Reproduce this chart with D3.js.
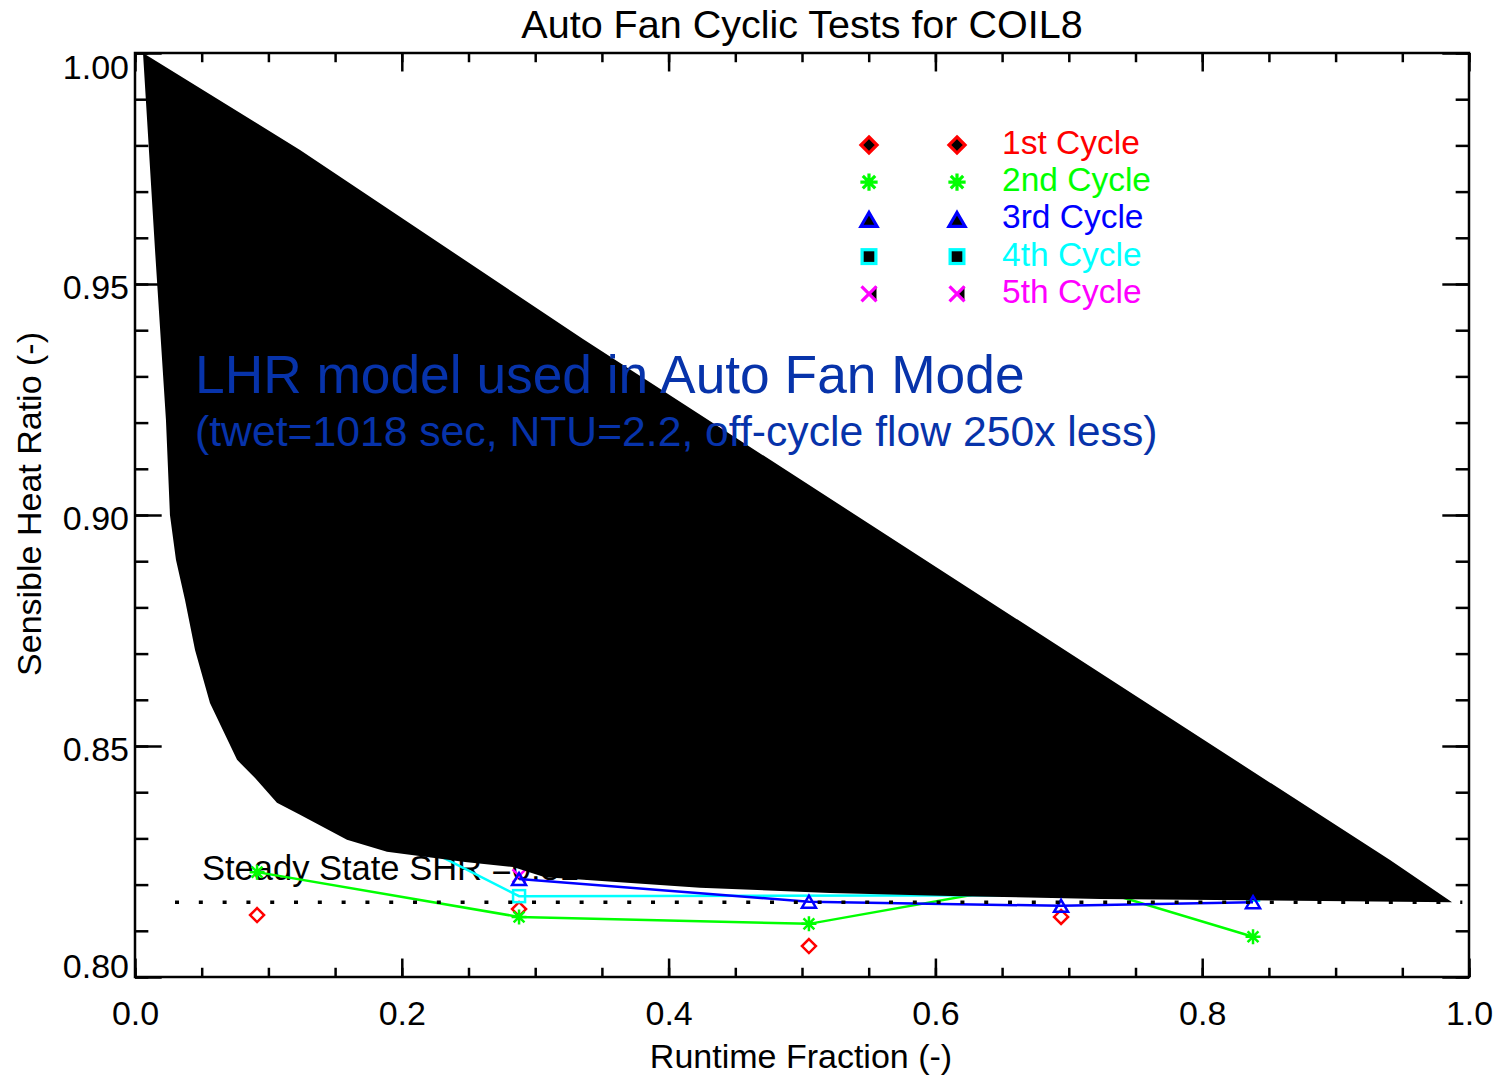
<!DOCTYPE html>
<html>
<head>
<meta charset="utf-8">
<script src="https://cdn.jsdelivr.net/npm/d3@7"></script>
<style>
  html, body { margin: 0; padding: 0; background: #ffffff; }
  svg { display: block; }
  text { font-family: "Liberation Sans", Arial, Helvetica, sans-serif; }
</style>
</head>
<body>
<svg id="chart" width="1508" height="1076"></svg>
<script>
// ---- data -------------------------------------------------------------
const runtimeFraction = [0.0915, 0.2879, 0.5052, 0.6942, 0.8381];

const cycle1SHR = [0.8134, 0.8147, 0.8067, 0.8130, null];
const cycle2SHR = [0.8227, 0.8130, 0.8115, 0.8212, 0.8087];
const cycle3SHR = [null, 0.8212, 0.8163, 0.8154, 0.8162];
const cycle4SHR = [0.8463, 0.8175, null, null, 0.8178];
const cycle5SHR = [null, 0.8219, null, null, null];

const cycleNames = ["1st Cycle", "2nd Cycle", "3rd Cycle", "4th Cycle", "5th Cycle"];

// LHR model envelope (auto fan mode): upper and lower bounding curves
const modelUpperRTF = [0.0060, 0.1237, 0.3358, 0.9408, 0.9873];
const modelUpperSHR = [1.0000, 0.9790, 0.9381, 0.8253, 0.8162];
const modelLowerRTF = [0.0060, 0.0150, 0.0232, 0.0262, 0.0307, 0.0375, 0.0450, 0.0562,
                       0.0765, 0.0900, 0.1064, 0.1237, 0.1589, 0.1889, 0.2474, 0.2834,
                       0.3073, 0.3336, 0.4235, 0.5210, 0.6184, 0.7234, 0.9873];
const modelLowerSHR = [1.0000, 0.9574, 0.9206, 0.9000, 0.8903, 0.8816, 0.8708, 0.8593,
                       0.8470, 0.8431, 0.8377, 0.8351, 0.8297, 0.8271, 0.8249, 0.8238,
                       0.8216, 0.8211, 0.8193, 0.8182, 0.8175, 0.8169, 0.8162];

const steadyStateSHR = 0.8162;
const steadyStateRange = [0.030, 0.995];

const xMajorTicks = [0.0, 0.2, 0.4, 0.6, 0.8, 1.0];
const xTickLabels = ["0.0", "0.2", "0.4", "0.6", "0.8", "1.0"];
const yMajorTicks = [0.80, 0.85, 0.90, 0.95, 1.00];
const yTickLabels = ["0.80", "0.85", "0.90", "0.95", "1.00"];

(function draw() {
  // ---- layout ---------------------------------------------------------
  const svg = d3.select("#chart");
  const mLeft = 135, mRight = 1469, mTop = 53, mBottom = 977;
  const x = d3.scaleLinear().domain([0, 1]).range([mLeft, mRight]);
  const y = d3.scaleLinear().domain([0.80, 1.00]).range([mBottom, mTop]);

  const colors = ["#ff0000", "#00ff00", "#0000ff", "#00ffff", "#ff00ff"];
  const textBlue = "#0733aa";
  const fontSize = 34;

  // ---- marker shapes --------------------------------------------------
  function drawSymbol(g, kind, cx, cy, color, filled, sw) {
    const s = filled ? 1.15 : 1;
    if (kind === "diamond") {
      const r = 7 * s;
      g.append("path")
        .attr("d", `M${cx},${cy - r}L${cx + r},${cy}L${cx},${cy + r}L${cx - r},${cy}Z`)
        .attr("fill", filled ? "#000" : "none").attr("stroke", color).attr("stroke-width", sw);
    } else if (kind === "asterisk") {
      const r = 7.5 * s;
      const d = r * 0.72;
      g.append("path")
        .attr("d", `M${cx - r},${cy}H${cx + r}M${cx},${cy - r}V${cy + r}` +
                   `M${cx - d},${cy - d}L${cx + d},${cy + d}M${cx - d},${cy + d}L${cx + d},${cy - d}`)
        .attr("fill", "none").attr("stroke", color).attr("stroke-width", sw);
    } else if (kind === "triangle") {
      g.append("path")
        .attr("d", `M${cx},${cy - 6 * s}L${cx + 7 * s},${cy + 6 * s}L${cx - 7 * s},${cy + 6 * s}Z`)
        .attr("fill", filled ? "#000" : "none").attr("stroke", color).attr("stroke-width", sw);
    } else if (kind === "square") {
      const r = 6 * s;
      g.append("rect")
        .attr("x", cx - r).attr("y", cy - r).attr("width", 2 * r).attr("height", 2 * r)
        .attr("fill", filled ? "#000" : "none").attr("stroke", color).attr("stroke-width", sw);
    } else if (kind === "cross") {
      const r = 6.5 * s;
      if (filled) {
        g.append("path")
          .attr("d", `M${cx},${cy}L${cx + r},${cy - r}L${cx + r},${cy + r}Z`)
          .attr("fill", "#000");
      }
      g.append("path")
        .attr("d", `M${cx - r},${cy - r}L${cx + r},${cy + r}M${cx - r},${cy + r}L${cx + r},${cy - r}`)
        .attr("fill", "none").attr("stroke", color).attr("stroke-width", sw);
    }
  }
  const symbols = ["diamond", "asterisk", "triangle", "square", "cross"];

  function seriesPoints(vals) {
    return runtimeFraction.map((rtf, i) => ({ x: rtf, y: vals[i] }));
  }
  const line = d3.line()
    .defined(d => d.y !== null)
    .x(d => x(d.x)).y(d => y(d.y));

  // ---- steady-state label (sits under the model envelope) -------------
  svg.append("text")
    .attr("x", 202).attr("y", 880)
    .attr("font-size", fontSize + 0.5).attr("fill", "#000")
    .text("Steady State SHR =0.816");

  // ---- measured cycles drawn beneath the model envelope ---------------
  const under = svg.append("g");
  [[cycle2SHR, 1], [cycle4SHR, 3]].forEach(([vals, idx]) => {
    under.append("path")
      .datum(seriesPoints(vals).filter(d => d.y !== null))
      .attr("d", line).attr("fill", "none")
      .attr("stroke", colors[idx]).attr("stroke-width", 2.5);
  });
  [[cycle1SHR, 0], [cycle2SHR, 1], [cycle4SHR, 3], [cycle5SHR, 4]].forEach(([vals, idx]) => {
    seriesPoints(vals).filter(d => d.y !== null).forEach(d => {
      drawSymbol(under, symbols[idx], x(d.x), y(d.y), colors[idx], false, 2.5);
    });
  });

  // ---- LHR model envelope ---------------------------------------------
  const envelope = modelUpperRTF.map((v, i) => [v, modelUpperSHR[i]])
    .concat(modelLowerRTF.map((v, i) => [v, modelLowerSHR[i]]).reverse());
  svg.append("path")
    .datum(envelope)
    .attr("d", d3.line().x(d => x(d[0])).y(d => y(d[1])).curve(d3.curveLinearClosed))
    .attr("fill", "#000").attr("stroke", "none");

  // ---- 3rd cycle drawn on top -----------------------------------------
  const over = svg.append("g");
  over.append("path")
    .datum(seriesPoints(cycle3SHR).filter(d => d.y !== null))
    .attr("d", line).attr("fill", "none")
    .attr("stroke", colors[2]).attr("stroke-width", 2.5);
  seriesPoints(cycle3SHR).filter(d => d.y !== null).forEach(d => {
    drawSymbol(over, "triangle", x(d.x), y(d.y), colors[2], false, 2.5);
  });

  // ---- steady-state dotted line -----------------------------------------
  svg.append("line")
    .attr("x1", x(steadyStateRange[0])).attr("x2", x(steadyStateRange[1]))
    .attr("y1", y(steadyStateSHR)).attr("y2", y(steadyStateSHR))
    .attr("stroke", "#000").attr("stroke-width", 3.5)
    .attr("stroke-dasharray", "4 19.8");

  // ---- annotation -----------------------------------------------------
  svg.append("text")
    .attr("x", 195).attr("y", 393)
    .attr("font-size", 53.3).attr("fill", textBlue)
    .text("LHR model used in Auto Fan Mode");
  svg.append("text")
    .attr("x", 195).attr("y", 446)
    .attr("font-size", 42.7).attr("fill", textBlue)
    .text("(twet=1018 sec, NTU=2.2, off-cycle flow 250x less)");

  // ---- legend ---------------------------------------------------------
  const legend = svg.append("g");
  cycleNames.forEach((name, i) => {
    const cy = 145 + i * 37.2;
    drawSymbol(legend, symbols[i], 869, cy, colors[i], true, 3.2);
    drawSymbol(legend, symbols[i], 957, cy, colors[i], true, 3.2);
    legend.append("text")
      .attr("x", 1002).attr("y", cy + 9)
      .attr("font-size", 33.5).attr("fill", colors[i])
      .text(name);
  });

  // ---- axes -----------------------------------------------------------
  const axisG = svg.append("g");
  const xMinor = d3.range(0, 1.0001, 0.05);
  const yMinor = d3.range(0.80, 1.0001, 0.01);
  const xLen = 0.02 * (mBottom - mTop), yLen = 0.02 * (mRight - mLeft);

  function styleAxis(g) {
    g.select(".domain").remove();
    g.selectAll(".tick line").attr("stroke", "#000").attr("stroke-width", 2.5);
  }
  const labelFont = g => g.selectAll("text").attr("font-size", fontSize).attr("fill", "#000")
    .attr("font-family", "Liberation Sans, Arial, sans-serif");

  // bottom
  axisG.append("g").attr("transform", `translate(0,${mBottom})`)
    .call(d3.axisBottom(x).tickValues(xMinor).tickSize(-xLen / 2).tickFormat(""))
    .call(styleAxis);
  axisG.append("g").attr("transform", `translate(0,${mBottom})`)
    .call(d3.axisBottom(x).tickValues(xMajorTicks).tickSize(-xLen).tickPadding(24)
      .tickFormat((d, i) => xTickLabels[i]))
    .call(styleAxis).call(labelFont);
  // top
  axisG.append("g").attr("transform", `translate(0,${mTop})`)
    .call(d3.axisTop(x).tickValues(xMinor).tickSize(-xLen / 2).tickFormat(""))
    .call(styleAxis);
  axisG.append("g").attr("transform", `translate(0,${mTop})`)
    .call(d3.axisTop(x).tickValues(xMajorTicks).tickSize(-xLen).tickFormat(""))
    .call(styleAxis);
  // left
  axisG.append("g").attr("transform", `translate(${mLeft},0)`)
    .call(d3.axisLeft(y).tickValues(yMinor).tickSize(-yLen / 2).tickFormat(""))
    .call(styleAxis);
  axisG.append("g").attr("transform", `translate(${mLeft},0)`)
    .call(d3.axisLeft(y).tickValues(yMajorTicks).tickSize(-yLen).tickPadding(6)
      .tickFormat((d, i) => yTickLabels[i]))
    .call(styleAxis).call(labelFont)
    .call(g => g.selectAll("text")
      .attr("dy", d => d >= 0.999 ? "25px" : (d <= 0.801 ? "0px" : "14px")));
  // right
  axisG.append("g").attr("transform", `translate(${mRight},0)`)
    .call(d3.axisRight(y).tickValues(yMinor).tickSize(-yLen / 2).tickFormat(""))
    .call(styleAxis);
  axisG.append("g").attr("transform", `translate(${mRight},0)`)
    .call(d3.axisRight(y).tickValues(yMajorTicks).tickSize(-yLen).tickFormat(""))
    .call(styleAxis);
  // frame
  axisG.append("rect")
    .attr("x", mLeft).attr("y", mTop).attr("width", mRight - mLeft).attr("height", mBottom - mTop)
    .attr("fill", "none").attr("stroke", "#000").attr("stroke-width", 2.5);

  // ---- titles ---------------------------------------------------------
  svg.append("text")
    .attr("x", 802).attr("y", 38).attr("text-anchor", "middle")
    .attr("font-size", 39.5).attr("fill", "#000")
    .text("Auto Fan Cyclic Tests for COIL8");
  svg.append("text")
    .attr("x", 801).attr("y", 1068).attr("text-anchor", "middle")
    .attr("font-size", fontSize).attr("fill", "#000")
    .text("Runtime Fraction (-)");
  svg.append("text")
    .attr("transform", "translate(41,504) rotate(-90)").attr("text-anchor", "middle")
    .attr("font-size", fontSize).attr("fill", "#000")
    .text("Sensible Heat Ratio (-)");
})();
</script>
</body>
</html>
